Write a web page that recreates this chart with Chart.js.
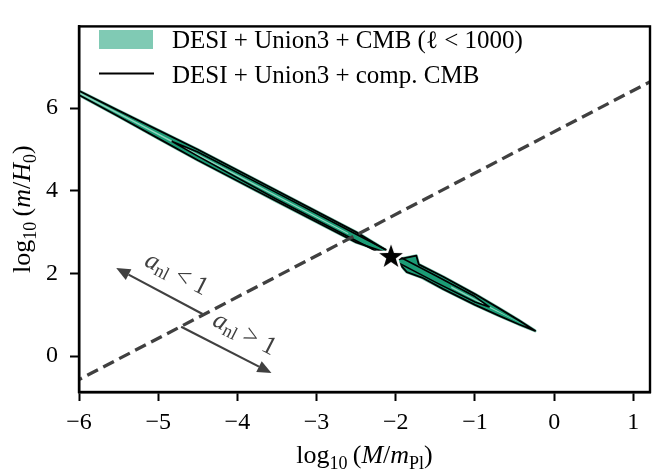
<!DOCTYPE html>
<html><head><meta charset="utf-8">
<script src="https://cdn.jsdelivr.net/npm/chart.js@4.4.1/dist/chart.umd.min.js"></script>
<style>html,body{margin:0;padding:0;background:#fff;}</style>
</head><body>
<canvas id="c" width="664" height="470"></canvas>
<script>
// ---------- data ----------
const xTicks = [-6, -5, -4, -3, -2, -1, 0, 1];
const yTicks = [0, 2, 4, 6];
const xLimits = [-6, 1.21];
const yLimits = [-0.87, 7.98];

// 2-sigma contour, upper-left lobe (closed polygon)
const lobeAX = [-6.2, -6.0, -5.5, -5.0, -4.5, -3.5, -2.5, -2.0, -2.5, -3.5, -4.5, -5.0, -5.5, -6.0, -6.2];
const lobeAY = [6.61, 6.42, 5.94, 5.47, 5.00, 4.00, 3.00, 2.42, 2.75, 3.74, 4.74, 5.27, 5.80, 6.32, 6.53];
// 2-sigma contour, lower-right lobe
const lobeBX = [-2.0, -1.74, -1.71, -1.4, -1.0, -0.7, -0.45, -0.24, -0.45, -0.7, -1.0, -1.4, -1.67, -1.86];
const lobeBY = [2.33, 2.43, 2.22, 1.92, 1.50, 1.16, 0.87, 0.61, 0.77, 0.98, 1.24, 1.62, 1.90, 2.03];
// 1-sigma contour of comp. CMB
const innerX = [-4.83, -4.5, -3.5, -2.5, -1.5, -1.0, -0.82, -1.0, -1.5, -2.5, -3.5, -4.5];
const innerY = [5.20, 4.94, 3.95, 2.95, 1.95, 1.44, 1.19, 1.31, 1.79, 2.79, 3.79, 4.84];
// light centre stripes
const stripeAX = [-6.2, -4.5, -2.6, -2.6, -4.5, -6.2];
const stripeAY = [6.59, 4.89, 2.98, 2.95, 4.85, 6.55];
const stripeBX = [-1.3, -0.8, -0.35, -0.8, -1.3];
const stripeBY = [1.69, 1.18, 0.73, 1.15, 1.65];
// dashed line
const dashX = [-6.5, 1.5];
const dashY = [-1.07, 6.93];
// best-fit star
const starX = [-2.06];
const starY = [2.40];
// arrows
const arrowTailX = [-4.44, -4.71];
const arrowTailY = [1.02, 0.71];
const arrowHeadX = [-5.53, -3.57];
const arrowHeadY = [2.13, -0.41];
const arrowLabelX = [-4.77, -3.91];
const arrowLabelY = [1.98, 0.53];
const arrowLabelOp = ['<', '>'];
const legendLabels = ['DESI + Union3 + CMB (\u2113 < 1000)', 'DESI + Union3 + comp. CMB'];

const LIGHT = '#80cab4';
const DARK = '#1b9c76';
const GREY = '#404040';
const FONT = '"Liberation Serif", "DejaVu Serif", serif';

function pts(xs, ys, close) {
  const p = xs.map((x, i) => ({x: x, y: ys[i]}));
  if (close) p.push({x: xs[0], y: ys[0]});
  return p;
}

function makeStar() {
  const cv = document.createElement('canvas');
  cv.width = 38; cv.height = 38;
  const c = cv.getContext('2d');
  const R = 12.5, r = 5, cx = 19, cy = 19;
  c.beginPath();
  for (let i = 0; i < 10; i++) {
    const a = -Math.PI / 2 + i * Math.PI / 5;
    const rr = i % 2 === 0 ? R : r;
    const px = cx + rr * Math.cos(a), py = cy + rr * Math.sin(a);
    if (i === 0) c.moveTo(px, py); else c.lineTo(px, py);
  }
  c.closePath();
  c.lineJoin = 'miter';
  c.strokeStyle = '#fff'; c.lineWidth = 5; c.stroke();
  c.fillStyle = '#000'; c.fill();
  return cv;
}

function polyDS(xs, ys, opts) {
  return Object.assign({
    type: 'line', data: pts(xs, ys, true), showLine: true, pointRadius: 0,
    tension: 0, clip: 0, borderJoinStyle: 'round'
  }, opts);
}

const datasets = [
  polyDS(lobeAX, lobeAY, {fill: false, borderColor: LIGHT, borderWidth: 3, order: 20}),
  polyDS(lobeBX, lobeBY, {fill: false, borderColor: LIGHT, borderWidth: 3, order: 20}),
  polyDS(lobeAX, lobeAY, {fill: 'shape', backgroundColor: DARK, borderColor: '#000', borderWidth: 1.8, order: 15}),
  polyDS(lobeBX, lobeBY, {fill: 'shape', backgroundColor: DARK, borderColor: '#000', borderWidth: 1.8, order: 15}),
  polyDS(stripeAX, stripeAY, {fill: 'shape', backgroundColor: '#8fd4bd', borderColor: 'rgba(0,0,0,0)', borderWidth: 0, order: 12}),
  polyDS(stripeBX, stripeBY, {fill: 'shape', backgroundColor: '#8fd4bd', borderColor: 'rgba(0,0,0,0)', borderWidth: 0, order: 12}),
  polyDS(innerX, innerY, {fill: false, borderColor: '#000', borderWidth: 1.6, order: 10}),
  {type: 'line', data: pts(dashX, dashY, false), showLine: true, pointRadius: 0, borderColor: GREY,
   borderWidth: 3.3, borderDash: [12, 6], fill: false, clip: 0, order: 5},
  {type: 'scatter', data: pts(starX, starY, false), pointStyle: makeStar(), pointRadius: 13, order: 1}
];

function richText(ctx, segs, x, y, size, align) {
  // segs: [text, kind] kind: r roman, i italic, s subscript roman
  const fonts = {
    r: size + 'px ' + FONT,
    i: 'italic ' + size + 'px ' + FONT,
    s: Math.round(size * 0.7) + 'px ' + FONT
  };
  let w = 0;
  const ws = segs.map(s => { ctx.font = fonts[s[1]]; const m = ctx.measureText(s[0]).width; w += m; return m; });
  let cx = align === 'center' ? x - w / 2 : x;
  segs.forEach((s, i) => {
    ctx.font = fonts[s[1]];
    const dy = s[1] === 's' ? size * 0.22 : 0;
    ctx.fillText(s[0], cx, y + dy);
    cx += ws[i];
  });
}

const decor = {
  id: 'decor',
  afterDatasetsDraw(chart) {
    const ctx = chart.ctx, xs = chart.scales.x, ys = chart.scales.y;
    ctx.save();
    ctx.beginPath();
    ctx.rect(chart.chartArea.left, chart.chartArea.top, chart.chartArea.right - chart.chartArea.left, chart.chartArea.bottom - chart.chartArea.top);
    ctx.clip();
    ctx.strokeStyle = GREY; ctx.fillStyle = GREY; ctx.lineWidth = 2.2;
    let ang = 0;
    for (let i = 0; i < arrowTailX.length; i++) {
      const x0 = xs.getPixelForValue(arrowTailX[i]), y0 = ys.getPixelForValue(arrowTailY[i]);
      const x1 = xs.getPixelForValue(arrowHeadX[i]), y1 = ys.getPixelForValue(arrowHeadY[i]);
      const a = Math.atan2(y1 - y0, x1 - x0);
      if (i === 1) ang = a;
      const L = 14, W = 6;
      const bx = x1 - L * Math.cos(a), by = y1 - L * Math.sin(a);
      ctx.beginPath(); ctx.moveTo(x0, y0); ctx.lineTo(bx, by); ctx.stroke();
      ctx.beginPath();
      ctx.moveTo(x1, y1);
      ctx.lineTo(bx + W * Math.sin(a), by - W * Math.cos(a));
      ctx.lineTo(bx - W * Math.sin(a), by + W * Math.cos(a));
      ctx.closePath(); ctx.fill();
    }
    // labels
    ctx.textBaseline = 'middle';
    for (let i = 0; i < arrowLabelX.length; i++) {
      const px = xs.getPixelForValue(arrowLabelX[i]), py = ys.getPixelForValue(arrowLabelY[i]);
      ctx.save();
      ctx.translate(px, py); ctx.rotate(ang);
      richText(ctx, [['a', 'i'], ['nl', 's'], [' ' + arrowLabelOp[i] + ' 1', 'r']], 0, 0, 26, 'center');
      ctx.restore();
    }
    ctx.restore();
  },
  afterDraw(chart) {
    const ctx = chart.ctx, ca = chart.chartArea;
    ctx.save();
    ctx.strokeStyle = '#000'; ctx.lineWidth = 2.4;
    ctx.strokeRect(ca.left, ca.top, ca.right - ca.left, ca.bottom - ca.top);
    // legend
    ctx.fillStyle = LIGHT;
    ctx.fillRect(99, 30, 54, 19);
    ctx.strokeStyle = '#000'; ctx.lineWidth = 2;
    ctx.beginPath(); ctx.moveTo(99, 73.5); ctx.lineTo(154, 73.5); ctx.stroke();
    ctx.fillStyle = '#000';
    ctx.textBaseline = 'alphabetic';
    ctx.font = '25px ' + FONT;
    ctx.fillText(legendLabels[0], 172, 48);
    ctx.fillText(legendLabels[1], 172, 83);
    // axis titles
    richText(ctx, [['log', 'r'], ['10', 's'], ['\u2009(', 'r'], ['M', 'i'], ['/', 'r'], ['m', 'i'], ['Pl', 's'], [')', 'r']],
      (ca.left + ca.right) / 2, 463, 26, 'center');
    ctx.save();
    ctx.translate(30, (ca.top + ca.bottom) / 2);
    ctx.rotate(-Math.PI / 2);
    richText(ctx, [['log', 'r'], ['10', 's'], ['\u2009(', 'r'], ['m', 'i'], ['/', 'r'], ['H', 'i'], ['0', 's'], [')', 'r']],
      0, 0, 26, 'center');
    ctx.restore();
    ctx.restore();
  }
};

const tickFmt = v => String(v).replace('-', '\u2212');

new Chart(document.getElementById('c'), {
  type: 'scatter',
  data: {datasets: datasets},
  options: {
    responsive: false, animation: false, devicePixelRatio: 1,
    layout: {padding: {top: 8, right: 7, left: 0, bottom: 0}},
    plugins: {legend: {display: false}, tooltip: {enabled: false}},
    scales: {
      x: {
        type: 'linear', min: xLimits[0], max: xLimits[1],
        afterBuildTicks: s => { s.ticks = xTicks.map(v => ({value: v})); },
        afterFit: s => { s.height = 78; },
        ticks: {callback: tickFmt, color: '#000', font: {family: FONT, size: 24}, padding: 7, maxRotation: 0, autoSkip: false},
        grid: {display: true, drawOnChartArea: false, drawTicks: true, tickLength: 9, tickWidth: 2, tickColor: '#000'},
        border: {display: true, color: '#000', width: 2.4}
      },
      y: {
        type: 'linear', min: yLimits[0], max: yLimits[1],
        afterBuildTicks: s => { s.ticks = yTicks.map(v => ({value: v})); },
        afterFit: s => { s.width = 79; },
        ticks: {callback: tickFmt, color: '#000', font: {family: FONT, size: 24}, padding: 12, autoSkip: false},
        grid: {display: true, drawOnChartArea: false, drawTicks: true, tickLength: 9, tickWidth: 2, tickColor: '#000'},
        border: {display: true, color: '#000', width: 2.4}
      }
    }
  },
  plugins: [decor]
});
</script>
</body></html>
